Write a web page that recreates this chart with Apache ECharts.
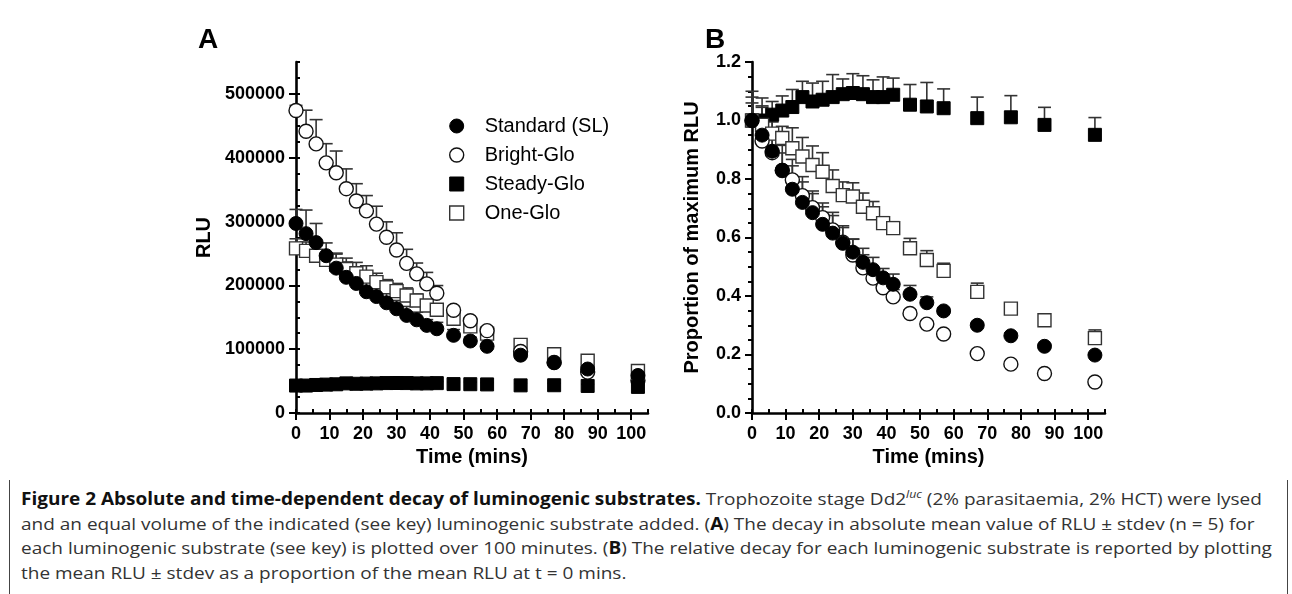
<!DOCTYPE html>
<html>
<head>
<meta charset="utf-8">
<script src="https://cdn.jsdelivr.net/npm/echarts@6/dist/echarts.min.js"></script>
<style>
html,body{margin:0;padding:0;background:#fff;}
#wrap{position:relative;width:1292px;height:594px;overflow:hidden;}
#chart{position:absolute;left:0;top:0;width:1292px;height:480px;}
#frame{position:absolute;left:9px;top:10px;width:1279px;height:640px;border:1.5px solid #444;border-bottom:none;border-radius:11px 11px 0 0;box-sizing:border-box;}
#caption{position:absolute;left:21px;top:487px;font-family:"Open Sans","Noto Sans",sans-serif;font-size:17px;line-height:24.7px;color:#333;}
#caption .ln{white-space:nowrap;transform-origin:0 50%;}
#caption b{color:#111;font-weight:700;}
#caption sup{font-style:italic;font-size:11px;line-height:0;}
</style>
</head>
<body>
<div id="wrap">
<div id="frame"></div>
<div id="chart"></div>
<div id="caption">
<div class="ln"><b>Figure 2 Absolute and time-dependent decay of luminogenic substrates.</b> Trophozoite stage Dd2<sup>luc</sup> (2% parasitaemia, 2% HCT) were lysed</div>
<div class="ln">and an equal volume of the indicated (see key) luminogenic substrate added. (<b>A</b>) The decay in absolute mean value of RLU ± stdev (n = 5) for</div>
<div class="ln">each luminogenic substrate (see key) is plotted over 100 minutes. (<b>B</b>) The relative decay for each luminogenic substrate is reported by plotting</div>
<div class="ln">the mean RLU ± stdev as a proportion of the mean RLU at t = 0 mins.</div>
</div>
</div>
<script>
// ---------- data ----------
const times = [0,3,6,9,12,15,18,21,24,27,30,33,36,39,42,47,52,57,67,77,87,102];
const seriesNames = ['Standard (SL)','Bright-Glo','Steady-Glo','One-Glo'];
const xTickValues = [0,10,20,30,40,50,60,70,80,90,100];
const yTickValuesA = [0,100000,200000,300000,400000,500000];

// Panel A: RLU (mean) and upper stdev
const rluStandard    = [297000,281000,267000,246500,227000,212600,203000,190000,182500,172700,163300,152900,146000,137300,132000,121700,112800,104500,90600,78700,68900,58800];
const rluStandardErr = [22000,37000,30000,20000,22000,24000,20000,18000,18000,17000,13000,14000,12000,9000,10000,9000,6000,3000,3000,3000,2000,3000];
const rluBright      = [474000,441500,421700,392000,376500,351500,332300,316700,296000,275500,255400,234500,218000,202300,187700,161000,144500,129000,96400,79300,64100,51000];
const rluBrightErr   = [8000,33000,38000,30000,34000,31000,27000,24000,28000,24000,27000,22000,17000,18000,12000,6000,5000,5000,3000,3000,3000,3000];
const rluSteady      = [43000,43000,43900,44500,45000,46400,45800,46100,46400,46900,47000,46900,46400,46400,46800,45300,45100,44800,43300,43500,42400,40900];
const rluSteadyErr   = [4000,3000,2000,2000,2500,2500,2500,3000,3500,3000,3500,3000,2500,3000,2500,3000,3200,2800,3000,3200,2600,2400];
const rluOne         = [258000,254000,246500,240000,232500,225700,219000,213700,205000,197000,191000,184000,176300,168500,161800,147700,135700,124300,106800,92100,81800,65800];
const rluOneErr      = [15000,14000,16000,10000,18000,17000,17000,17000,14000,12000,12000,12000,10000,6000,6000,9000,8000,7000,8000,3000,3000,7000];

// Panel B: proportion of maximum RLU and upper stdev
const propStandard    = [1.0,0.95,0.895,0.83,0.765,0.72,0.685,0.645,0.615,0.58,0.55,0.515,0.49,0.462,0.44,0.406,0.377,0.349,0.30,0.264,0.228,0.198];
const propStandardErr = [0.08,0.1,0.1,0.085,0.08,0.07,0.065,0.06,0.06,0.06,0.044,0.048,0.042,0.032,0.035,0.03,0.02,0.01,0.01,0.01,0.008,0.008];
const propBright      = [1.0,0.93,0.89,0.829,0.797,0.743,0.702,0.668,0.626,0.584,0.54,0.496,0.461,0.428,0.397,0.34,0.304,0.27,0.203,0.167,0.135,0.106];
const propBrightErr   = [0.02,0.07,0.08,0.06,0.07,0.065,0.057,0.05,0.06,0.05,0.055,0.045,0.036,0.038,0.025,0.012,0.01,0.01,0.006,0.006,0.006,0.006];
const propSteady      = [1.0,1.0,1.02,1.034,1.046,1.08,1.065,1.071,1.08,1.09,1.094,1.09,1.08,1.08,1.088,1.054,1.048,1.042,1.008,1.011,0.985,0.951];
const propSteadyErr   = [0.1,0.077,0.045,0.05,0.06,0.054,0.063,0.063,0.077,0.052,0.066,0.063,0.059,0.069,0.057,0.069,0.082,0.066,0.072,0.074,0.06,0.059];
const propOne         = [1.0,0.985,0.955,0.94,0.905,0.877,0.848,0.825,0.776,0.745,0.74,0.705,0.683,0.649,0.632,0.563,0.523,0.486,0.414,0.357,0.317,0.256];
const propOneErr      = [0.06,0.06,0.06,0.04,0.07,0.065,0.065,0.065,0.055,0.045,0.047,0.047,0.04,0.022,0.022,0.034,0.032,0.026,0.03,0.01,0.008,0.028];

// ---------- chart ----------
const FONT = 'Arial, Liberation Sans, Helvetica, sans-serif';
const chart = echarts.init(document.getElementById('chart'), null, {renderer:'canvas'});

const SQUARE = 'path://M0,0L10,0L10,10L0,10Z';
const styles = {
  'Standard (SL)': {symbol:'circle', size:14, itemStyle:{color:'#000', borderColor:'#000', borderWidth:1, opacity:1}},
  'Bright-Glo':    {symbol:'circle', size:14, itemStyle:{color:'#fff', borderColor:'#111', borderWidth:1.4, opacity:1}},
  'Steady-Glo':    {symbol:SQUARE,   size:13, itemStyle:{color:'#000', borderColor:'#000', borderWidth:1, opacity:1}},
  'One-Glo':       {symbol:SQUARE,   size:13, itemStyle:{color:'#fff', borderColor:'#333', borderWidth:1.4, opacity:1}}
};

function pts(vals){ return times.map((t,i)=>[t, vals[i]]); }
function errPts(vals, errs){ return times.map((t,i)=>[t, vals[i], errs[i]]); }

function errRender(params, api){
  const x = api.value(0), y = api.value(1), e = api.value(2);
  const p0 = api.coord([x, y]);
  const p1 = api.coord([x, y + e]);
  const hw = 6.5;
  return {type:'group', children:[
    {type:'line', shape:{x1:p0[0], y1:p0[1], x2:p1[0], y2:p1[1]}, style:{stroke:'#333', lineWidth:1.6}},
    {type:'line', shape:{x1:p1[0]-hw, y1:p1[1], x2:p1[0]+hw, y2:p1[1]}, style:{stroke:'#333', lineWidth:1.6}}
  ]};
}

function scatter(name, vals, axis){
  const s = styles[name];
  return {type:'scatter', name, data:pts(vals), xAxisIndex:axis, yAxisIndex:axis,
    symbol:s.symbol, symbolSize:s.size, symbolKeepAspect:true, itemStyle:s.itemStyle, z:3, silent:true, animation:false};
}
function errSeries(name, vals, errs, axis){
  return {type:'custom', name, data:errPts(vals, errs), xAxisIndex:axis, yAxisIndex:axis,
    renderItem:errRender, encode:{x:0, y:1}, z:2, silent:true, animation:false};
}

const axisLineStyle = {lineStyle:{color:'#000', width:2.6}};
const labelStyle = {color:'#000', fontFamily:FONT, fontWeight:'bold', fontSize:18};

function xAxisMain(grid){
  return {type:'value', gridIndex:grid, min:0, max:105, interval:10,
    axisLine:{show:true, onZero:false, ...axisLineStyle},
    axisTick:{show:true, length:7, lineStyle:{color:'#000', width:2}, customValues:xTickValues},
    axisLabel:{show:true, margin:12, customValues:xTickValues, formatter:v=>String(v), ...labelStyle},
    minorTick:{show:false}, splitLine:{show:false},
    name:'Time (mins)', nameLocation:'middle', nameGap:34,
    nameTextStyle:{color:'#000', fontFamily:FONT, fontWeight:'bold', fontSize:20}};
}
function xAxisMinor(grid){
  return {type:'value', gridIndex:grid, min:0, max:105, interval:5,
    axisLine:{show:false}, axisLabel:{show:false}, splitLine:{show:false},
    axisTick:{show:true, length:4, lineStyle:{color:'#000', width:2}}};
}

const option = {
  animation:false,
  backgroundColor:'#fff',
  textStyle:{fontFamily:FONT},
  grid:[
    {left:296, top:62, width:352, height:351},
    {left:752, top:62, width:353, height:351}
  ],
  xAxis:[ xAxisMain(0), xAxisMain(1), xAxisMinor(0), xAxisMinor(1) ],
  yAxis:[
    {type:'value', gridIndex:0, min:0, max:550000, interval:100000,
     axisLine:{show:true, onZero:false, ...axisLineStyle},
     axisTick:{show:true, length:7, lineStyle:{color:'#000', width:2}, customValues:yTickValuesA},
     axisLabel:{show:true, margin:11, customValues:yTickValuesA, formatter:v=>String(v), ...labelStyle},
     splitLine:{show:false},
     name:'RLU', nameLocation:'middle', nameGap:82,
     nameTextStyle:{color:'#000', fontFamily:FONT, fontWeight:'bold', fontSize:20}},
    {type:'value', gridIndex:1, min:0, max:1.2, interval:0.2,
     axisLine:{show:true, onZero:false, ...axisLineStyle},
     axisTick:{show:true, length:7, lineStyle:{color:'#000', width:2}},
     axisLabel:{show:true, margin:11, formatter:v=>v.toFixed(1), ...labelStyle},
     minorTick:{show:true, splitNumber:4, length:4, lineStyle:{color:'#000', width:2}},
     splitLine:{show:false}, minorSplitLine:{show:false},
     name:'Proportion of maximum RLU', nameLocation:'middle', nameGap:50,
     nameTextStyle:{color:'#000', fontFamily:FONT, fontWeight:'bold', fontSize:20}},
    {type:'value', gridIndex:0, min:0, max:550000, interval:25000,
     axisLine:{show:false}, axisLabel:{show:false}, splitLine:{show:false},
     axisTick:{show:true, length:4, lineStyle:{color:'#000', width:2}}}
  ],
  legend:{
    show:true, orient:'vertical', left:444, top:111,
    itemWidth:46, itemHeight:14, itemGap:9, symbolKeepAspect:true,
    textStyle:{color:'#000', fontFamily:FONT, fontSize:20, lineHeight:20},
    data:seriesNames.map(n=>({name:n, icon:styles[n].symbol, itemStyle:styles[n].itemStyle})),
    selectedMode:false
  },
  graphic:[
    {type:'text', left:198, top:26, style:{text:'A', font:'bold 28px Arial, Liberation Sans, sans-serif', fill:'#000'}},
    {type:'text', left:705, top:26, style:{text:'B', font:'bold 28px Arial, Liberation Sans, sans-serif', fill:'#000'}}
  ],
  series:[
    // panel A
    errSeries('One-Glo', rluOne, rluOneErr, 0),
    errSeries('Bright-Glo', rluBright, rluBrightErr, 0),
    errSeries('Standard (SL)', rluStandard, rluStandardErr, 0),
    errSeries('Steady-Glo', rluSteady, rluSteadyErr, 0),
    scatter('One-Glo', rluOne, 0),
    scatter('Bright-Glo', rluBright, 0),
    scatter('Standard (SL)', rluStandard, 0),
    scatter('Steady-Glo', rluSteady, 0),
    // panel B
    errSeries('Steady-Glo', propSteady, propSteadyErr, 1),
    errSeries('One-Glo', propOne, propOneErr, 1),
    errSeries('Bright-Glo', propBright, propBrightErr, 1),
    errSeries('Standard (SL)', propStandard, propStandardErr, 1),
    scatter('Steady-Glo', propSteady, 1),
    scatter('One-Glo', propOne, 1),
    scatter('Bright-Glo', propBright, 1),
    scatter('Standard (SL)', propStandard, 1)
  ]
};
chart.setOption(option);

// caption: condense lines to the printed width
(function(){
  const lines = Array.from(document.querySelectorAll('#caption .ln'));
  const target = 1251;
  const scales = [];
  lines.forEach((ln,i)=>{
    const w = ln.scrollWidth;
    if(i<3){ const s = target / w; scales.push(s); ln.style.transform = 'scaleX('+s+')'; }
  });
  const avg = scales.reduce((a,b)=>a+b,0)/scales.length;
  lines[3].style.transform = 'scaleX('+avg+')';
})();
</script>
</body>
</html>
